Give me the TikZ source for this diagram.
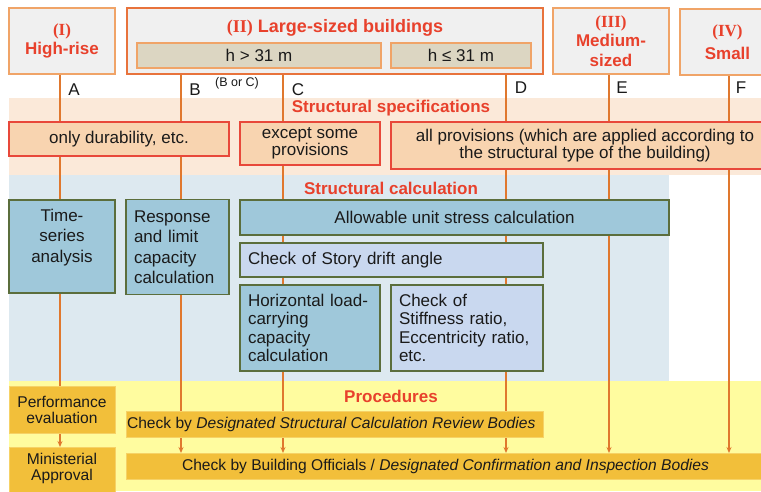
\documentclass[tikz,border=0pt]{standalone}
\usepackage{fontspec}
\setmainfont{Liberation Sans}
\newfontfamily\tnr{Liberation Serif}
\usetikzlibrary{arrows.meta}
\definecolor{lineor}{HTML}{E0782E}
\definecolor{hdrfill}{HTML}{F0F0F0}
\definecolor{hdrbord}{HTML}{F0A468}
\definecolor{hdrbordb}{HTML}{E8733C}
\definecolor{redt}{HTML}{E8412C}
\definecolor{hfill}{HTML}{DCD6C2}
\definecolor{specband}{HTML}{FBE9D9}
\definecolor{specfill}{HTML}{F8D4B0}
\definecolor{specbord}{HTML}{E8483A}
\definecolor{calcband}{HTML}{DDE9F0}
\definecolor{calcfill}{HTML}{9FC8DA}
\definecolor{calcbord}{HTML}{5B6E3C}
\definecolor{litefill}{HTML}{C9D8EF}
\definecolor{procband}{HTML}{FFFC9F}
\definecolor{procfill}{HTML}{F2BF3A}
\definecolor{procbord}{HTML}{F6D266}
\definecolor{txt}{HTML}{1A1A1A}
\pgfdeclarelayer{bg}
\pgfdeclarelayer{lines}
\pgfsetlayers{bg,lines,main}
\begin{document}
\begin{tikzpicture}[x=1pt,y=-1pt,
  base/.style={rectangle, inner sep=0pt, outer sep=0pt, text=txt, font=\fontsize{17}{19}\selectfont},
  hdr/.style={base, draw=hdrbord, fill=hdrfill, line width=1.6pt, text=redt, align=center, font=\bfseries\fontsize{17}{19.5}\selectfont},
  hbox/.style={base, draw=hdrbord, fill=hfill, line width=1.4pt},
  lbl/.style={base},
  ttl/.style={base, text=redt, font=\bfseries\fontsize{17}{19}\selectfont},
  spec/.style={base, draw=specbord, fill=specfill, line width=1.6pt, align=center, font=\fontsize{17}{17.5}\selectfont},
  calc/.style={base, draw=calcbord, fill=calcfill, line width=1.6pt},
  lite/.style={base, draw=calcbord, fill=litefill, line width=1.6pt},
  proc/.style={base, draw=procbord, fill=procfill, line width=0.8pt, font=\fontsize{15.6}{16}\selectfont},
  ln/.style={draw=lineor, line width=1.5pt},
  arr/.style={ln, -{Stealth[length=6pt,width=5pt]}}
]
\useasboundingbox (0,0) rectangle (761,491);
\clip (0,0) rectangle (761,491);
\begin{pgfonlayer}{bg}
  \fill[white] (0,0) rectangle (761,491);
  \fill[specband] (9,98) rectangle (761,175);
  \fill[calcband] (9,175) rectangle (669,381);
  \fill[procband] (9,381) rectangle (761,491);
\end{pgfonlayer}

\coordinate (xA) at (60,0);
\coordinate (xB) at (181,0);
\coordinate (xC) at (283,0);
\coordinate (xD) at (506,0);
\coordinate (xE) at (609,0);
\coordinate (xF) at (729,0);

% header boxes
\node[hdr, minimum width=106pt, minimum height=66pt] (I) at (62,41)
  {{\tnr\bfseries (I)}\\High-rise};
\node[hdr, draw=hdrbordb, minimum width=416pt, minimum height=66pt] (II) at (335,41) {};
\node[ttl, font=\bfseries\fontsize{18}{20}\selectfont] (IIt) at (335,28)
  {{\tnr\bfseries (II)} Large-sized buildings};
\node[hbox, minimum width=244pt, minimum height=25pt] (h1) at (259,55.5) {h > 31 m};
\node[hbox, minimum width=140pt, minimum height=25pt] (h2) at (461,55.5) {h ≤ 31 m};
\node[hdr, minimum width=116pt, minimum height=66pt] (III) at (611,41)
  {{\tnr\bfseries (III)}\\Medium-\\sized};
\node[hdr, minimum width=95pt, minimum height=66pt, font=\bfseries\fontsize{17}{23}\selectfont] (IV) at (727.5,42)
  {{\tnr\bfseries (IV)}\\Small};

% labels
\node[lbl] (lA) at (74,90) {A};
\node[lbl] (lB) at (195,90) {B};
\node[lbl, font=\fontsize{12.5}{14}\selectfont] (lBC) at (237,83) {(B or C)};
\node[lbl] (lC) at (298,89.5) {C};
\node[lbl] (lD) at (521,88) {D};
\node[lbl] (lE) at (622,88) {E};
\node[lbl] (lF) at (741,88) {F};

% titles
\node[ttl] (t1) at (391,108) {Structural specifications};
\node[ttl] (t2) at (391,188) {Structural calculation};
\node[ttl] (t3) at (391,396) {Procedures};

% spec boxes
\node[spec, minimum width=220pt, minimum height=34pt] (dur) at (119,139) {only durability, etc.};
\node[spec, minimum width=140pt, minimum height=43pt] (exc) at (310,143.5) {except some\\provisions};
\node[spec, minimum width=388pt, minimum height=47pt] (all) at (585,145.5)
  {all provisions (which are applied according to\\the structural type of the building)};

% calc boxes
\node[calc, minimum width=106pt, minimum height=93pt,
  label={[name=tsT, base, align=center, font=\fontsize{17}{20.5}\selectfont, anchor=north, yshift=-9pt]north:Time-\\series\\analysis}] (ts) at (62,246.5) {};
\node[calc, minimum width=103pt, minimum height=95pt, text width=87pt, align=left, font=\fontsize{17}{20.5}\selectfont] (resp) at (177.5,247)
  {Response\\and limit\\capacity\\calculation};
\node[calc, minimum width=429pt, minimum height=35pt] (allow) at (454.5,217.5)
  {Allowable unit stress calculation};
\node[lite, minimum width=303pt, minimum height=34pt, text width=287pt, align=left] (drift) at (391.5,260)
  {\raisebox{-1pt}{Check of Story drift angle}};
\node[calc, minimum width=140pt, minimum height=86pt, text width=124pt, align=left, font=\fontsize{17}{18.5}\selectfont] (horiz) at (310,328)
  {Horizontal load-\\carrying\\capacity\\calculation};
\node[lite, minimum width=152pt, minimum height=86pt, text width=136pt, align=left, font=\fontsize{17}{18.5}\selectfont] (stiff) at (467,328)
  {Check of\\Stiffness ratio,\\Eccentricity ratio,\\etc.};

% procedure boxes
\node[proc, minimum width=106pt, minimum height=47pt, align=center] (perf) at (62,409.5)
  {Performance\\evaluation};
\node[proc, minimum width=106pt, minimum height=48pt,
  label={[name=miniT, base, align=center, font=\fontsize{15.6}{16}\selectfont, anchor=north, yshift=-6pt]north:Ministerial\\Approval}] (mini) at (62,471) {};
\node[proc, minimum width=417pt, minimum height=26pt] (desig) at (334.5,424)
  {\makebox[415pt][l]{Check by \textit{Designated Structural Calculation Review Bodies}}};
\node[proc, minimum width=649pt, minimum height=26pt] (bldg) at (450.5,466)
  {\makebox[649pt][l]{\hspace*{56pt}Check by Building Officials / \textit{Designated Confirmation and Inspection Bodies}}};

% connectors
\begin{pgfonlayer}{lines}
  \draw[ln] (I.south -| xA) -- (perf.north -| xA);
  \draw[arr] (perf.south -| xA) -- (mini.north -| xA);
  \draw[arr] (h1.south -| xB) -- (bldg.north -| xB);
  \draw[arr] (h1.south -| xC) -- (bldg.north -| xC);
  \draw[arr] (h2.south -| xD) -- (bldg.north -| xD);
  \draw[arr] (III.south -| xE) -- (bldg.north -| xE);
  \draw[arr] (IV.south -| xF) -- (bldg.north -| xF);
\end{pgfonlayer}
\end{tikzpicture}
\end{document}
